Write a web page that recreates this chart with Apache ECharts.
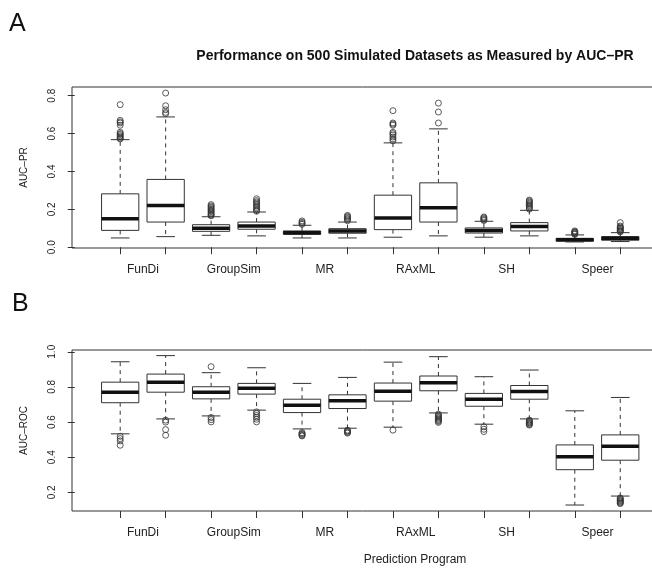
<!DOCTYPE html>
<html>
<head>
<meta charset="utf-8">
<script src="https://cdn.jsdelivr.net/npm/echarts@6/dist/echarts.min.js"></script>
<style>
  html, body { margin: 0; padding: 0; background: #fff; }
  #chart { width: 652px; height: 569px; }
</style>
</head>
<body>
<div id="chart"></div>
<script>
// programs, two boxes each (boxes sit at x = 1..12)
const programs = ['FunDi', 'GroupSim', 'MR', 'RAxML', 'SH', 'Speer']

// panel A: AUC-PR
const prLow  = [0.049, 0.056, 0.063, 0.060, 0.049, 0.049, 0.053, 0.060, 0.053, 0.060, 0.028, 0.030]
const prQ1   = [0.089, 0.133, 0.084, 0.095, 0.068, 0.074, 0.093, 0.133, 0.075, 0.086, 0.032, 0.037]
const prMed  = [0.151, 0.221, 0.100, 0.112, 0.077, 0.086, 0.154, 0.209, 0.089, 0.109, 0.040, 0.047]
const prQ3   = [0.282, 0.358, 0.119, 0.133, 0.086, 0.098, 0.275, 0.340, 0.102, 0.130, 0.047, 0.056]
const prHigh = [0.568, 0.688, 0.161, 0.186, 0.116, 0.133, 0.551, 0.625, 0.137, 0.195, 0.065, 0.077]
const prOut = [
    [0.753, 0.670, 0.662, 0.656, 0.644, 0.607, 0.600, 0.595, 0.588, 0.582, 0.576, 0.572],
    [0.814, 0.747, 0.726, 0.712, 0.705],
    [0.225, 0.218, 0.212, 0.206, 0.200, 0.194, 0.188, 0.181, 0.175, 0.170, 0.166],
    [0.256, 0.246, 0.239, 0.232, 0.225, 0.218, 0.210, 0.203, 0.196, 0.190],
    [0.139, 0.132, 0.126, 0.121],
    [0.168, 0.163, 0.158, 0.152, 0.147, 0.140],
    [0.721, 0.656, 0.650, 0.644, 0.607, 0.600, 0.592, 0.582, 0.572, 0.562],
    [0.761, 0.714, 0.656],
    [0.160, 0.155, 0.150, 0.145, 0.141],
    [0.249, 0.244, 0.238, 0.232, 0.226, 0.220, 0.214, 0.207, 0.201],
    [0.086, 0.082, 0.079, 0.075, 0.071, 0.068],
    [0.130, 0.112, 0.107, 0.102, 0.098, 0.094, 0.089, 0.085, 0.081]
]

// panel B: AUC-ROC
const rocLow  = [0.533, 0.618, 0.635, 0.668, 0.561, 0.565, 0.571, 0.652, 0.588, 0.618, 0.128, 0.179]
const rocQ1   = [0.710, 0.770, 0.732, 0.759, 0.654, 0.677, 0.719, 0.778, 0.690, 0.730, 0.329, 0.383]
const rocMed  = [0.770, 0.827, 0.770, 0.793, 0.696, 0.721, 0.776, 0.824, 0.730, 0.774, 0.402, 0.462]
const rocQ3   = [0.827, 0.873, 0.801, 0.820, 0.730, 0.755, 0.822, 0.862, 0.763, 0.808, 0.470, 0.527]
const rocHigh = [0.943, 0.978, 0.881, 0.909, 0.820, 0.854, 0.941, 0.972, 0.858, 0.896, 0.664, 0.740]
const rocOut = [
    [0.519, 0.506, 0.493, 0.468],
    [0.611, 0.600, 0.557, 0.525],
    [0.915, 0.626, 0.614, 0.601],
    [0.658, 0.648, 0.637, 0.627, 0.616, 0.601],
    [0.540, 0.535, 0.530, 0.525, 0.521],
    [0.554, 0.550, 0.546, 0.541, 0.537],
    [0.554],
    [0.645, 0.639, 0.633, 0.627, 0.621, 0.615, 0.609, 0.604, 0.598],
    [0.573, 0.559, 0.546],
    [0.611, 0.606, 0.601, 0.596, 0.592, 0.587, 0.583],
    [],
    [0.168, 0.164, 0.159, 0.154, 0.150, 0.145, 0.140, 0.136]
]

const prTicks = [0, 0.2, 0.4, 0.6, 0.8]
const rocTicks = [0.2, 0.4, 0.6, 0.8, 1.0]

const ink = '#333'
const font = 'Liberation Sans, Arial, Helvetica, sans-serif'

function boxData(lo, q1, md, q3, hi) {
    return lo.map((v, i) => [i + 1, v, q1[i], md[i], q3[i], hi[i]])
}
function outlierData(out) {
    const res = []
    out.forEach((list, i) => list.forEach(v => res.push([i + 1, v])))
    return res
}

// R style box: dashed whiskers, half width staples, thick median
function renderBox(params, api) {
    const x = api.value(0)
    const lo = api.coord([x, api.value(1)])
    const q1 = api.coord([x, api.value(2)])
    const md = api.coord([x, api.value(3)])
    const q3 = api.coord([x, api.value(4)])
    const hi = api.coord([x, api.value(5)])
    const half = api.size([0.82, 0])[0] / 2
    const cap = half / 2
    const cx = lo[0]
    const thin = { stroke: ink, lineWidth: 1, fill: null }
    const dash = { stroke: ink, lineWidth: 1, lineDash: [4, 4] }
    return {
        type: 'group',
        children: [
            { type: 'line', shape: { x1: cx, y1: q3[1], x2: cx, y2: hi[1] }, style: dash },
            { type: 'line', shape: { x1: cx, y1: q1[1], x2: cx, y2: lo[1] }, style: dash },
            { type: 'line', shape: { x1: cx - cap, y1: hi[1], x2: cx + cap, y2: hi[1] }, style: thin },
            { type: 'line', shape: { x1: cx - cap, y1: lo[1], x2: cx + cap, y2: lo[1] }, style: thin },
            { type: 'rect', shape: { x: cx - half, y: q3[1], width: half * 2, height: q1[1] - q3[1] },
              style: { stroke: ink, lineWidth: 1, fill: '#fff' } },
            { type: 'line', shape: { x1: cx - half, y1: md[1], x2: cx + half, y2: md[1] },
              style: { stroke: '#111', lineWidth: 3.5 } }
        ]
    }
}

function xAxisFor(gridIndex, withName) {
    return {
        type: 'value', gridIndex: gridIndex,
        min: -0.06, max: 15.03,
        splitLine: { show: false },
        axisLine: { show: false },
        axisTick: { show: true, length: 7, customValues: [1, 2, 3, 4, 5, 6, 7, 8, 9, 10, 11, 12], lineStyle: { color: ink } },
        axisLabel: {
            margin: 16, fontSize: 12, color: '#222', fontFamily: font,
            customValues: [1.5, 3.5, 5.5, 7.5, 9.5, 11.5],
            formatter: v => programs[Math.round((v - 1.5) / 2)]
        },
        name: withName ? 'Prediction Program' : '',
        nameLocation: 'middle', nameGap: 43,
        nameTextStyle: { fontSize: 12, color: '#222', fontFamily: font }
    }
}

function yAxisFor(gridIndex, name, min, max, ticks) {
    return {
        type: 'value', gridIndex: gridIndex, min: min, max: max,
        splitLine: { show: false },
        axisLine: { show: false },
        axisTick: { show: true, length: 7, customValues: ticks, lineStyle: { color: ink } },
        axisLabel: {
            rotate: 90, margin: 15, fontSize: 10, color: '#222', fontFamily: font,
            customValues: ticks, formatter: v => v.toFixed(1)
        },
        name: name, nameLocation: 'middle', nameRotate: 90, nameGap: 43,
        nameTextStyle: { fontSize: 10, color: '#222', fontFamily: font }
    }
}

const chart = echarts.init(document.getElementById('chart'))
chart.setOption({
    animation: false,
    backgroundColor: '#fff',
    graphic: [
        { type: 'text', style: { x: 9, y: 24, text: 'A', font: '25px ' + font, fill: '#111', textVerticalAlign: 'middle' } },
        { type: 'text', style: { x: 12, y: 304, text: 'B', font: '25px ' + font, fill: '#111', textVerticalAlign: 'middle' } },
        { type: 'text', style: { x: 415, y: 56.5, text: 'Performance on 500 Simulated Datasets as Measured by AUC\u2013PR',
            font: 'bold 14px ' + font, fill: '#111', textAlign: 'center', textVerticalAlign: 'middle' } }
    ],
    grid: [
        { left: 72, top: 87, width: 686, height: 161, outerBoundsMode: 'none', containLabel: false,
          show: true, borderColor: ink, borderWidth: 1, backgroundColor: 'transparent' },
        { left: 72, top: 350, width: 686, height: 161, outerBoundsMode: 'none', containLabel: false,
          show: true, borderColor: ink, borderWidth: 1, backgroundColor: 'transparent' }
    ],
    xAxis: [xAxisFor(0, false), xAxisFor(1, true)],
    yAxis: [
        yAxisFor(0, 'AUC\u2013PR', -0.004, 0.846, prTicks),
        yAxisFor(1, 'AUC\u2013ROC', 0.094, 1.010, rocTicks)
    ],
    series: [
        {
            type: 'custom', xAxisIndex: 0, yAxisIndex: 0,
            renderItem: renderBox,
            encode: { x: 0, y: [1, 2, 3, 4, 5] },
            data: boxData(prLow, prQ1, prMed, prQ3, prHigh)
        },
        {
            type: 'scatter', xAxisIndex: 0, yAxisIndex: 0, symbol: 'circle', symbolSize: 6,
            itemStyle: { color: 'rgba(0,0,0,0)', borderColor: ink, borderWidth: 1 },
            data: outlierData(prOut)
        },
        {
            type: 'custom', xAxisIndex: 1, yAxisIndex: 1,
            renderItem: renderBox,
            encode: { x: 0, y: [1, 2, 3, 4, 5] },
            data: boxData(rocLow, rocQ1, rocMed, rocQ3, rocHigh)
        },
        {
            type: 'scatter', xAxisIndex: 1, yAxisIndex: 1, symbol: 'circle', symbolSize: 6,
            itemStyle: { color: 'rgba(0,0,0,0)', borderColor: ink, borderWidth: 1 },
            data: outlierData(rocOut)
        }
    ]
})
</script>
</body>
</html>
